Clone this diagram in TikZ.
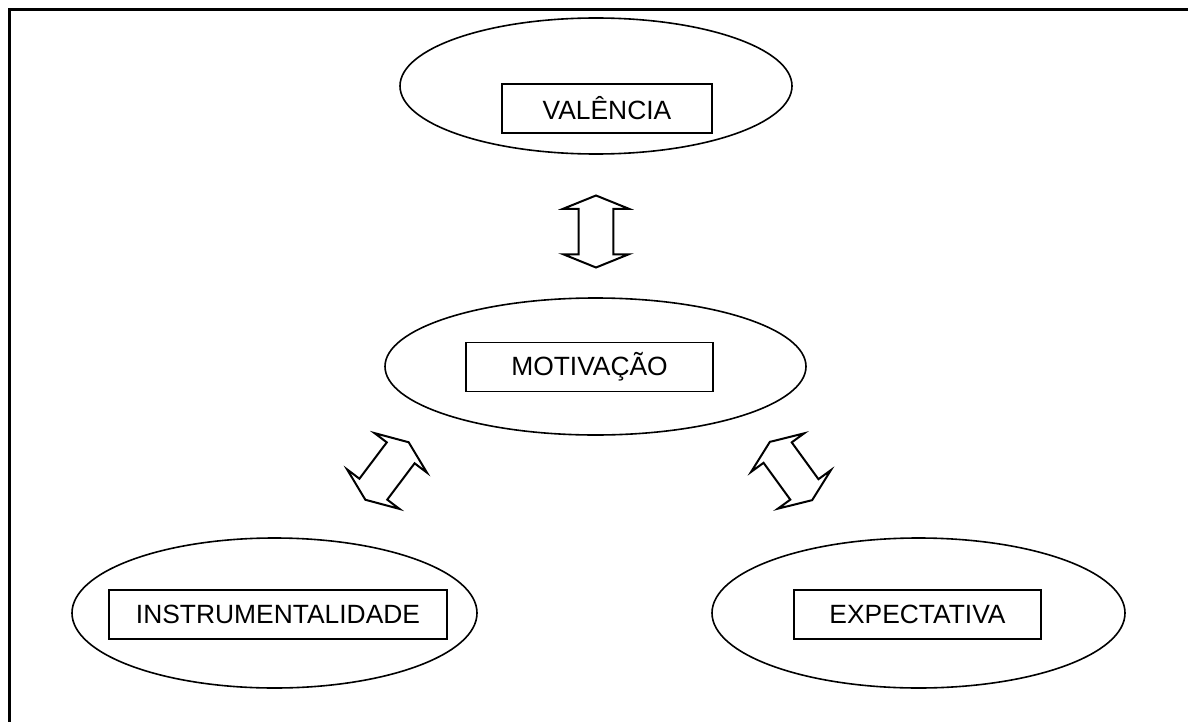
\documentclass[tikz,border=0pt]{standalone}
\usepackage{fontspec}
\setmainfont{Liberation Sans}
\usetikzlibrary{shapes.geometric, shapes.arrows}

\begin{document}
\begin{tikzpicture}[x=0.5pt, y=-0.5pt,
    every node/.style={font=\fontsize{13.2}{15}\selectfont},
    oval/.style={ellipse, draw, line width=0.8pt},
    label box/.style={rectangle, draw, line width=0.8pt, minimum height=24.5pt, inner sep=0pt},
    link/.style={double arrow, draw, line width=1pt, inner xsep=0pt, inner ysep=8.2pt,
        minimum height=36pt, double arrow head extend=7.7pt, double arrow tip angle=136}]
    \useasboundingbox (0,0) rectangle (1188,722);
    % Frame (top and left edge only)
    \draw[line width=1.5pt] (1188,10) -- (9,10) -- (9,722);

    % Valence (top)
    \node[oval, minimum width=196pt, minimum height=68pt] (V) at (596,86) {};
    \node[label box, minimum width=105pt] (VB) at (607,108.5) {VALÊNCIA};

    % Motivation (middle)
    \node[oval, minimum width=210.5pt, minimum height=68.5pt] (M) at (595.5,366.5) {};
    \node[label box, minimum width=123.5pt] (MB) at (589.5,367) {MOTIVAÇÃO};

    % Instrumentality and expectancy (bottom)
    \node[oval, minimum width=202.5pt, minimum height=75pt] (I) at (274.5,613) {};
    \node[label box, minimum width=169pt] (IB) at (278,614.5) {INSTRUMENTALIDADE};
    \node[oval, minimum width=206.5pt, minimum height=75pt] (E) at (918.5,613) {};
    \node[label box, minimum width=123.5pt] (EB) at (917.5,614.5) {EXPECTATIVA};

    % Two-way arrows between the ellipses
    \node[link, rotate=90] (VM) at (596,231.5) {};
    \node[link, rotate=53] (MI) at (387,471) {};
    \node[link, rotate=126] (ME) at (791,471) {};
\end{tikzpicture}
\end{document}
